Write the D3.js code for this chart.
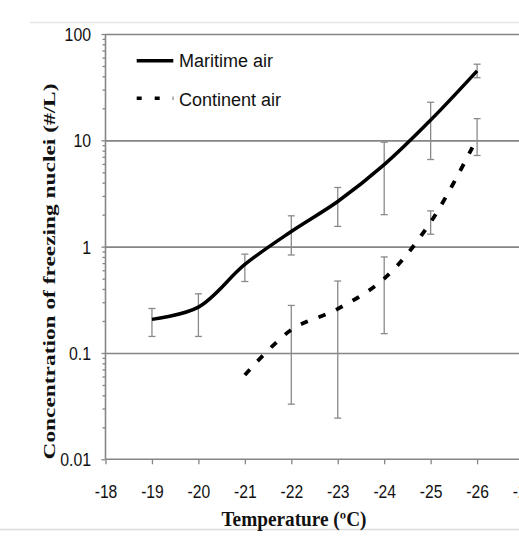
<!DOCTYPE html>
<html>
<head>
<meta charset="utf-8">
<script src="https://cdn.jsdelivr.net/npm/d3@7"></script>
<style>
  html, body { margin: 0; padding: 0; background: #fff; }
  svg { display: block; }
</style>
</head>
<body>
<div id="chart"></div>
<script>
// data
const temps = [-19, -20, -21, -22, -23, -24, -25, -26];
const maritime = [0.207, 0.27, 0.68, 1.39, 2.66, 5.9, 15.5, 45];
const maritimeLow = [0.143, 0.143, 0.47, 0.835, 1.55, 2.0, 6.6, 38.8];
const maritimeHigh = [0.262, 0.36, 0.85, 1.95, 3.6, 9.6, 22.8, 52];

const contTemps = [-21, -22, -23, -24, -25, -26];
const continent = [0.062, 0.165, 0.26, 0.50, 1.7, 10.5];
const contErrTemps = [-22, -23, -24, -25, -26];
const contLow = [0.033, 0.0244, 0.152, 1.31, 7.2];
const contHigh = [0.28, 0.475, 0.80, 2.17, 16];

const xTicks = [-18, -19, -20, -21, -22, -23, -24, -25, -26, -27];
const yTicks = [0.01, 0.1, 1, 10, 100];
const yLabels = ["0.01", "0.1", "1", "10", "100"];
const legendNames = ["Maritime air", "Continent air"];

function createChart() {
    const w = 519;
    const h = 553;
    const left = 105.5;
    const top = 34;
    const bottom = 459.3;
    const sans = "'Liberation Sans', Arial, sans-serif";
    const serif = "'Liberation Serif', 'Times New Roman', serif";
    const axisColor = "#858585";

    const x = d3.scaleLinear().domain([-18, -27]).range([left, left + 9 * 46.45]);
    const y = d3.scaleLog().domain([0.01, 100]).range([bottom, top]);

    const svg = d3.select("#chart").append("svg")
        .attr("width", w)
        .attr("height", h);

    // page frame lines
    svg.append("line").attr("x1", 30).attr("x2", w).attr("y1", 22.5).attr("y2", 22.5)
        .style("stroke", "#e6e6e6").style("stroke-width", 1.5);
    svg.append("line").attr("x1", 0).attr("x2", w).attr("y1", 529.5).attr("y2", 529.5)
        .style("stroke", "#dcdcdc").style("stroke-width", 1.5);

    /* GRIDLINES */
    const grid = svg.append("g")
        .attr("transform", "translate(" + left + ",0)")
        .call(d3.axisLeft(y).tickValues([0.1, 1, 10, 100]).tickSize(-(w - left)).tickFormat(""));
    grid.select(".domain").remove();
    grid.selectAll("line").style("stroke", axisColor).style("stroke-width", 1.6);

    /* ERROR BARS */
    const errG = svg.append("g")
        .style("stroke", "#8a8a8a")
        .style("stroke-width", 1.3)
        .style("fill", "none");

    function errorBars(ts, lo, hi) {
        ts.forEach(function(t, i) {
            const cx = x(t);
            errG.append("line").attr("x1", cx).attr("x2", cx).attr("y1", y(lo[i])).attr("y2", y(hi[i]));
            errG.append("line").attr("x1", cx - 3.5).attr("x2", cx + 3.5).attr("y1", y(lo[i])).attr("y2", y(lo[i]));
            errG.append("line").attr("x1", cx - 3.5).attr("x2", cx + 3.5).attr("y1", y(hi[i])).attr("y2", y(hi[i]));
        });
    }
    errorBars(temps, maritimeLow, maritimeHigh);
    errorBars(contErrTemps, contLow, contHigh);

    /* LINES */
    const line = d3.line()
        .x(function(d) { return x(d[0]); })
        .y(function(d) { return y(d[1]); })
        .curve(d3.curveCatmullRom.alpha(0.5));

    svg.append("path")
        .datum(temps.map(function(t, i) { return [t, maritime[i]]; }))
        .style("fill", "none")
        .style("stroke", "#000")
        .style("stroke-width", 3.5)
        .attr("d", line);

    svg.append("path")
        .datum(contTemps.map(function(t, i) { return [t, continent[i]]; }))
        .style("fill", "none")
        .style("stroke", "#000")
        .style("stroke-width", 3.8)
        .style("stroke-dasharray", "7.5,11.5")
        .attr("d", line);

    /* AXES */
    const yAxis = svg.append("g")
        .attr("transform", "translate(" + left + ",0)")
        .call(d3.axisLeft(y).tickValues(yTicks).tickSize(4)
            .tickFormat(function(d, i) { return yLabels[i]; }));

    const minor = [];
    [0.01, 0.1, 1, 10].forEach(function(dec) {
        for (let k = 2; k <= 9; k++) minor.push(dec * k);
    });
    const yMinor = svg.append("g")
        .attr("transform", "translate(" + left + ",0)")
        .call(d3.axisLeft(y).tickValues(minor).tickSize(3).tickFormat(""));
    yMinor.select(".domain").remove();

    const xAxis = svg.append("g")
        .attr("transform", "translate(0," + bottom + ")")
        .call(d3.axisBottom(x).tickValues(xTicks).tickSize(5)
            .tickFormat(function(d) { return String(d); }));

    [yAxis, yMinor, xAxis].forEach(function(g) {
        g.selectAll("line").style("stroke", axisColor).style("stroke-width", 1.3);
        g.select(".domain").style("stroke", axisColor).style("stroke-width", 1.6);
    });
    xAxis.select(".domain").attr("d", "M" + left + ",0H" + w);
    yAxis.select(".domain").attr("d", "M0," + top + "V" + bottom);

    yAxis.selectAll("text")
        .attr("x", 0)
        .attr("dy", "0.36em")
        .attr("transform", "translate(-14.5,0) scale(0.88,1)")
        .style("font-family", sans)
        .style("font-size", "18px")
        .style("fill", "#111");

    xAxis.selectAll("text")
        .attr("y", 0)
        .attr("dy", 0)
        .attr("transform", "translate(0,39) scale(0.87,1)")
        .style("font-family", sans)
        .style("font-size", "18px")
        .style("fill", "#111");

    /* TITLES */
    svg.append("text")
        .attr("transform", "translate(55,271.5) rotate(-90) scale(1,0.87)")
        .attr("text-anchor", "middle")
        .attr("textLength", 376)
        .attr("lengthAdjust", "spacingAndGlyphs")
        .style("font-family", serif)
        .style("font-weight", "bold")
        .style("font-size", "19px")
        .style("fill", "#111")
        .text("Concentration of freezing nuclei (#/L)");

    svg.append("text")
        .attr("x", 294)
        .attr("y", 525.5)
        .attr("text-anchor", "middle")
        .attr("textLength", 145)
        .attr("lengthAdjust", "spacingAndGlyphs")
        .style("font-family", serif)
        .style("font-weight", "bold")
        .style("font-size", "20px")
        .style("fill", "#111")
        .text("Temperature (ºC)");

    /* LEGEND */
    const legend = svg.append("g");
    const rows = [
        { y: 60.7, dash: null, tY: 66.7 },
        { y: 98.3, dash: "5,13", tY: 106 }
    ];
    rows.forEach(function(r, i) {
        legend.append("line")
            .attr("x1", 136.7).attr("x2", 173.3)
            .attr("y1", r.y).attr("y2", r.y)
            .style("stroke", "#000")
            .style("stroke-width", 3.6)
            .style("stroke-dasharray", r.dash);
        legend.append("text")
            .attr("x", 179)
            .attr("y", r.tY)
            .style("font-family", sans)
            .style("font-size", "18px")
            .style("fill", "#111")
            .text(legendNames[i]);
    });
}

createChart();
</script>
</body>
</html>
